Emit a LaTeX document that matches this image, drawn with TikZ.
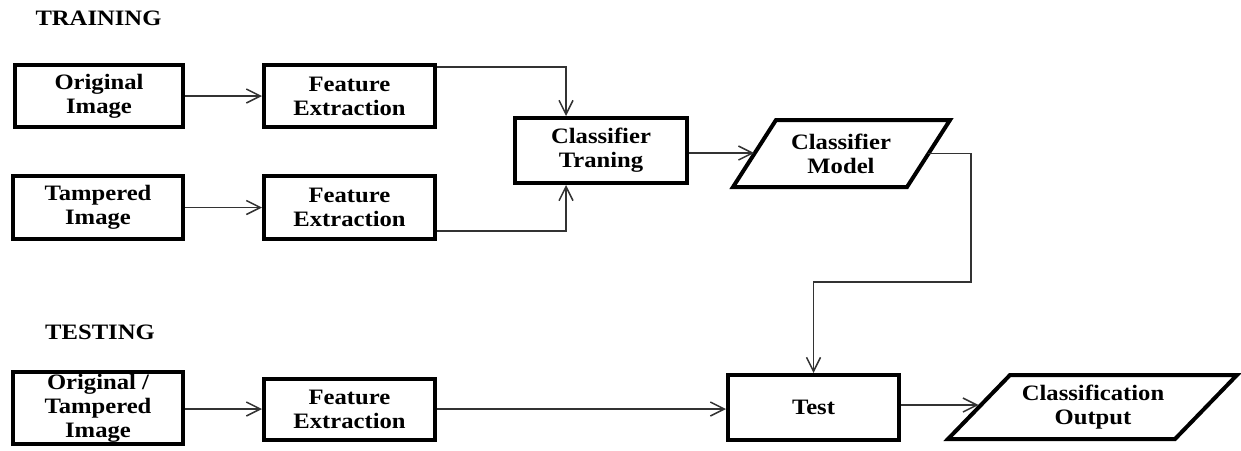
\documentclass[tikz,border=0pt]{standalone}
\usepackage{fontspec}
\setmainfont{Liberation Serif}[FakeStretch=1.12]
\usetikzlibrary{arrows.meta,calc}
\begin{document}
\begin{tikzpicture}[x=0.5pt,y=-0.5pt,
  txt/.style={font=\fontsize{11}{12}\selectfont\bfseries, align=center, inner sep=0pt},
  box/.style={txt, draw, line width=2pt, minimum width=85pt, minimum height=31.5pt},
  para/.style={draw, line width=2pt, line join=miter},
  conn/.style={draw=black!80, line width=0.75pt, -{Straight Barb[length=7pt,width=7pt,line width=0.75pt]}},
  plain/.style={draw=black!80, line width=0.75pt}]
\useasboundingbox (0,0) rectangle (1241,450);
% labels
\node[txt] (lbltrain) at (98.5,18) {TRAINING};
\node[txt] (lbltest) at (100,332) {TESTING};
% training boxes
\node[box, minimum width=84pt, minimum height=31pt] (oi) at (99,96) {Original\\Image};
\node[box] (ti) at (98,207.5) {Tampered\\Image};
\node[box, minimum width=85.5pt, minimum height=31pt] (fe1) at (349.5,96) {Feature\\Extraction};
\node[box, minimum width=85.5pt] (fe2) at (349.5,207.5) {Feature\\Extraction};
\node[box, minimum width=86pt, minimum height=32.5pt] (ct) at (601,150.5) {Classifier\\Traning};
% classifier model parallelogram
\draw[para] (733,187) -- (907,187) -- (950,120) -- (776,120) -- cycle;
\node[txt, minimum width=86.5pt, minimum height=33.5pt] (model) at (841,153.5) {Classifier\\Model};
% testing boxes
\node[box, minimum height=36pt] (in) at (98,408) {Original /\\Tampered\\Image};
\node[box, minimum width=85.5pt, minimum height=30.5pt] (fe3) at (349.5,409) {Feature\\Extraction};
\node[box, minimum width=85.5pt, minimum height=32.5pt] (test) at (813.5,407.5) {Test};
% output parallelogram
\draw[para] (948,439) -- (1175,439) -- (1237,375) -- (1010,375) -- cycle;
\node[txt, minimum width=114pt, minimum height=32pt] (out) at (1093,407) {Classification\\Output};
% connectors
\draw[conn] (oi.east) -- (oi.east -| fe1.west);
\draw[conn] (ti.east) -- (ti.east -| fe2.west);
\coordinate (ctin1) at ($(ct.north)+(-35,0)$);
\coordinate (ctin2) at ($(ct.south)+(-35,0)$);
\draw[conn] ($(fe1.north east)+(0,4)$) -| (ctin1);
\draw[conn] ($(fe2.south east)+(0,-10)$) -| (ctin2);
\draw[conn] (ct.east |- 0,153) -- (model.west |- 0,153);
\coordinate (bend) at (971,282);
\draw[conn] (model.east) -| (bend) -| (test.north);
\draw[conn] (in.east |- fe3.west) -- (fe3.west);
\draw[conn] (fe3.east) -- (fe3.east -| test.west);
\draw[conn] (test.east |- 0,405) -- (out.west |- 0,405);
\end{tikzpicture}
\end{document}
